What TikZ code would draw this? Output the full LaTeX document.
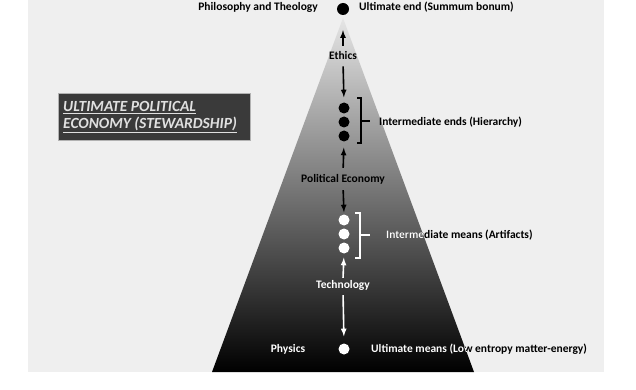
\documentclass[tikz,border=0pt]{standalone}
\usepackage{fontspec}
\setmainfont{Carlito}
\usepackage{tikz}
\usetikzlibrary{calc,arrows}

\definecolor{panel}{HTML}{EFEFEF}
\definecolor{boxgray}{HTML}{3A3A3A}

\tikzset{
  lbl/.style={inner sep=1pt, font=\fontsize{11.5}{13}\selectfont\bfseries},
  dotb/.style={circle, fill=black, inner sep=0pt, minimum size=11pt},
  dotw/.style={circle, fill=white, inner sep=0pt, minimum size=11pt},
  arr/.style={-latex, line width=1.6pt},
  brace/.style={line width=1.2pt}
}

\begin{document}
\begin{tikzpicture}[x=1pt,y=-1pt]
  \useasboundingbox (0,0) rectangle (636,390);
  \fill[panel] (28,0) rectangle (604,372);

  % the pyramid
  \coordinate (apex) at (343,18);
  \coordinate (bl) at (212,372);
  \coordinate (br) at (474,372);
  \shade[top color=black!10, middle color=black!37, bottom color=black]
    (apex) -- (br) -- (bl) -- cycle;

  % title box
  \fill[boxgray] (58,93) rectangle (250,140);
  \draw[gray!60] (58,93) rectangle (250,140);
  \node[text=white!88!black, inner sep=0pt, align=left, anchor=north west,
        font=\fontsize{15.5}{17}\selectfont\bfseries\itshape] (title) at (63,101)
    {\underline{ULTIMATE POLITICAL}\\ \underline{ECONOMY (STEWARDSHIP)}};

  % top
  \node[dotb, minimum size=12pt] (ue) at (343,9) {};
  \node[lbl, anchor=east] (phil) at (319,7) {Philosophy and Theology};
  \node[lbl, anchor=west] (uetxt) at (358,7) {Ultimate end (Summum bonum)};
  \node[lbl] (ethics) at (343,56) {Ethics};

  % intermediate ends
  \node[dotb] (ie1) at (344,108) {};
  \node[dotb] (ie2) at (344,122) {};
  \node[dotb] (ie3) at (344,136) {};
  \draw[brace] (357,98) -- (361,98) -- (361,143) -- (357,143);
  \draw[brace] (361,121) -- (370,121);
  \node[lbl, anchor=west] (ietxt) at (378,122) {Intermediate ends (Hierarchy)};
  \node[lbl] (pe) at (343,179) {Political Economy};

  % intermediate means
  \node[dotw] (im1) at (344,220) {};
  \node[dotw] (im2) at (344,234) {};
  \node[dotw] (im3) at (344,248) {};
  \draw[brace, white] (355,213) -- (360,213) -- (360,258) -- (355,258);
  \draw[brace, white] (360,235) -- (370,235);
  \node[lbl, anchor=west] (imtxt) at (385,235) {Intermediate means (Artifacts)};
  \node[lbl, text=white] (tech) at (343,285) {Technology};

  % bottom
  \node[dotw] (um) at (344,349) {};
  \node[lbl, text=white] (phys) at (288,349) {Physics};
  \node[lbl, anchor=west] (umtxt) at (370,349) {Ultimate means (Low entropy matter-energy)};

  % white where the text lies on the pyramid
  \begin{scope}
    \clip (apex) -- (br) -- (bl) -- cycle;
    \node[lbl, anchor=west, text=white] (imtxtw) at (385,235) {Intermediate means (Artifacts)};
    \node[lbl, anchor=west, text=white] (umtxtw) at (370,349) {Ultimate means (Low entropy matter-energy)};
  \end{scope}

  % arrows
  \draw[arr, shorten <=5pt, shorten >=15pt] (ethics.north) -- (ue.south);
  \draw[arr, shorten <=5pt, shorten >=5pt] (ethics.south) -- (ie1.north);
  \draw[arr, shorten <=5pt, shorten >=6pt] (pe.north) -- (ie3.south);
  \draw[arr, shorten <=5pt, shorten >=2pt] (pe.south) -- (im1.north);
  \draw[arr, white, shorten <=1pt, shorten >=4pt] (tech.north) -- (im3.south);
  \draw[arr, white, shorten <=4pt, shorten >=7pt] (tech.south) -- (um.north);
\end{tikzpicture}
\end{document}
